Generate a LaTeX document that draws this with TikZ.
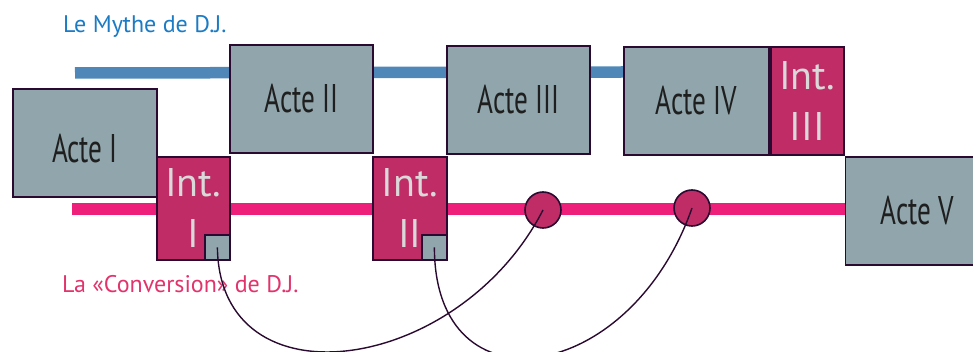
\documentclass[tikz,border=0pt]{standalone}
\usepackage{fontspec}
\setmainfont{PT Sans}
\newfontfamily\condfont{PT Sans}[FakeStretch=0.68]
\usetikzlibrary{positioning}
\definecolor{actegray}{HTML}{90A6AC}
\definecolor{intred}{HTML}{C02C66}
\definecolor{edge}{HTML}{2A0A30}
\definecolor{mytheblue}{HTML}{4F88B8}
\definecolor{mythetext}{HTML}{1B7BC4}
\definecolor{convpink}{HTML}{EE1F7A}
\definecolor{convtext}{HTML}{E2336C}
\definecolor{inttext}{HTML}{D9D9D9}

\begin{document}
\begin{tikzpicture}[x=1pt,y=-1pt,
  acte/.style={draw=edge,line width=1.8pt,fill=actegray,anchor=north west,inner sep=0pt,minimum width=144pt,minimum height=108pt,font=\condfont\fontsize{40}{48}\selectfont,text=black!88},
  inter/.style={draw=edge,line width=1.8pt,fill=intred,anchor=north west,inner sep=0pt,minimum width=73pt,minimum height=103pt,align=center,font=\fontsize{40}{51}\selectfont,text=inttext},
  coin/.style={draw=edge,line width=1.8pt,fill=actegray,inner sep=0pt,minimum size=25pt,anchor=south east},
  point/.style={circle,draw=edge,line width=1.6pt,fill=intred,inner sep=0pt,minimum size=36pt},
  lien/.style={edge,line width=1.4pt},
  legende/.style={anchor=base west,inner sep=0pt,font=\fontsize{24}{28}\selectfont}]
\useasboundingbox (0,0) rectangle (973,352);
% les deux fils
\coordinate (mstart) at (75,73);
\coordinate (mend) at (623,72);
\coordinate (cstart) at (72,209);
\draw[mytheblue,line width=11.5pt] (mstart) -- (mend);
\node[legende,text=mythetext] (mythe) at (63,33) {Le Mythe de D.J.};
\node[legende,text=convtext] (conv) at (62,292) {La «Conversion» de D.J.};
% les actes
\node[acte,text height=40pt] (acte1) at (12,88) {Acte I};
\node[acte,minimum width=143pt] (acte2) at (229,44) {Acte II};
\node[acte,minimum width=143pt] (acte3) at (446,45) {Acte III};
\node[acte,minimum width=145pt] (acte4) at (623,46) {Acte IV};
\node[inter,minimum height=108pt,right=0pt of acte4] (int3) {Int.\\III};
\node[acte,anchor=north west] (acte5) at (int3.south east) {Acte V};
\draw[convpink,line width=11.5pt] (cstart) -- (acte5.west |- cstart);
% les intermedes
\node[inter] (int1) at (156,156) {Int.\\I};
\node[inter,minimum width=74pt] (int2) at (372,156) {Int.\\II};
\node[coin] (coin1) at (int1.south east) {};
\node[coin] (coin2) at (int2.south east) {};
\node[point] (pt1) at (543,210) {};
\node[point] (pt2) at (692,208) {};
% les renvois
\draw[lien] (coin1.center) .. controls +(2,160) and +(-85,165) .. (pt1.center);
\draw[lien] (coin2.center) .. controls +(0,167) and +(-62,177) .. (pt2.center);
\end{tikzpicture}
\end{document}
